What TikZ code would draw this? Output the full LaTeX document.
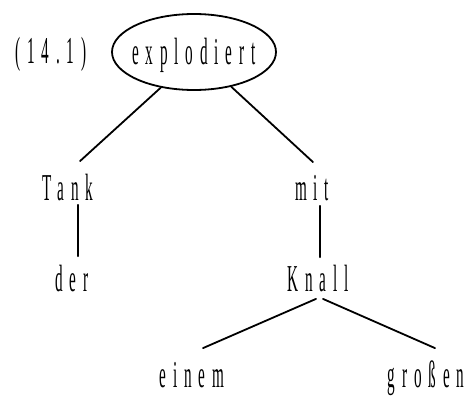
\documentclass[tikz,border=0pt]{standalone}
\usepackage{fontspec}
\newfontfamily\treefont[FakeStretch=0.4,LetterSpace=18]{Liberation Serif}
\usetikzlibrary{shapes.geometric}

\begin{document}
\begin{tikzpicture}[x=1pt,y=-1pt,line cap=round,line width=1.8pt,
                    every node/.style={font=\treefont\fontsize{38}{44}\selectfont},
                    word/.style={inner sep=0pt,text height=24pt,text depth=0pt,anchor=base},
                    head/.style={ellipse,draw,inner xsep=-9pt,text height=24pt,text depth=0pt,
                                 minimum width=164pt,minimum height=76pt},
                ]
  \useasboundingbox (0,0) rectangle (473,399);

  \node[word]   (num)    at (51,63)   {(14.1)};
  \node[head]   (ex)     at (194,52)  {explodiert};
  \node[word]   (tank)   at (68,200)  {Tank};
  \node[word]   (mit)    at (312,200) {mit};
  \node[word]   (der)    at (72,291)  {der};
  \node[word]   (knall)  at (318,291) {Knall};
  \node[word]   (einem)  at (192,387) {einem};
  \node[word]   (grossen) at (426,387) {großen};

  \draw (ex.227) -- ([xshift=12pt,yshift=14pt]tank.north);
  \draw (ex.317) -- ([xshift=1pt,yshift=13pt]mit.north);
  \draw ([xshift=10pt,yshift=-4pt]tank.south) -- ([xshift=6pt,yshift=10pt]der.north);
  \draw ([xshift=8pt,yshift=-5pt]mit.south) -- ([xshift=2pt,yshift=9pt]knall.north);
  \draw ([xshift=-2pt,yshift=-7pt]knall.south) -- ([xshift=11pt,yshift=14pt]einem.north);
  \draw ([xshift=5pt,yshift=-7pt]knall.south) -- ([xshift=9pt,yshift=14pt]grossen.north);
\end{tikzpicture}
\end{document}
